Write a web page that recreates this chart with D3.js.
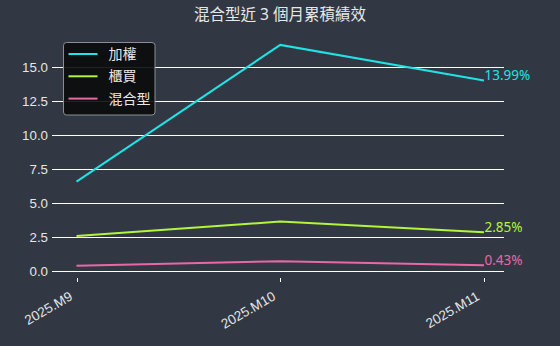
<!DOCTYPE html>
<html>
<head>
<meta charset="utf-8">
<script src="https://cdn.jsdelivr.net/npm/d3@7"></script>
<style>
  body { margin: 0; background: #313843; }
  svg { display: block; font-family: "Noto Sans", "Noto Sans CJK TC", sans-serif; }
</style>
</head>
<body>
<div id="container"></div>
<script>
/* DATA */
const months = ["2025.M9", "2025.M10", "2025.M11"];
const seriesNames = ["加權", "櫃買", "混合型"];
const taiex = [6.56, 16.6, 13.99];
const otc = [2.57, 3.63, 2.85];
const mixed = [0.39, 0.72, 0.43];
const yTicks = [0, 2.5, 5, 7.5, 10, 12.5, 15];
const colors = ["#1fe3e6", "#b2f53a", "#e868a6"];

const width = 560, height = 346;
const seriesData = [taiex, otc, mixed];

const svg = d3.select("#container").append("svg")
  .attr("width", width)
  .attr("height", height);

svg.append("rect").attr("width", width).attr("height", height).attr("fill", "#313843");

/* SCALES */
const xScale = d3.scalePoint().domain(months).range([76.5, 484]);
const yScale = d3.scaleLinear().domain([0, 15]).range([271, 66.7]);

// title
svg.append("text")
  .attr("x", 280).attr("y", 20)
  .attr("text-anchor", "middle")
  .attr("fill", "#e8e8e8")
  .style("font-family", "'Noto Sans', 'Noto Sans CJK TC', sans-serif")
  .style("font-size", "15.5px")
  .style("white-space", "pre")
  .text("混合型近 3 個月累積績效");

// y grid + axis
const yAxis = svg.append("g")
  .attr("transform", "translate(56,0)")
  .call(d3.axisLeft(yScale).tickValues(yTicks).tickFormat(d3.format(".1f"))
    .tickSize(-448).tickPadding(8));
yAxis.select(".domain").remove();
yAxis.selectAll(".tick").attr("transform", d => "translate(0," + (Math.round(yScale(d)) + 0.5) + ")");
yAxis.selectAll("line").attr("stroke", "#ffffff").attr("stroke-width", 1)
  .attr("x1", -4);
yAxis.selectAll("text").attr("fill", "#e6e6e6").style("font-size", "13.3px");

// x axis
const xAxis = svg.append("g")
  .attr("transform", "translate(0,277)")
  .call(d3.axisBottom(xScale).tickSize(5).tickPadding(4));
xAxis.select(".domain").remove();
xAxis.selectAll(".tick").attr("transform", d => "translate(" + (Math.round(xScale(d)) + 0.5) + ",0)");
xAxis.selectAll("line").attr("stroke", "#ffffff").attr("y1", 1);
xAxis.selectAll("text")
  .attr("fill", "#e6e6e6")
  .style("font-size", "13.5px")
  .attr("text-anchor", "end")
  .attr("y", 0).attr("dy", 0)
  .attr("transform", "translate(-4,22) rotate(-30)");

// lines
const line = d3.line().x((d, i) => xScale(months[i])).y(d => yScale(d));
seriesData.forEach((s, k) => {
  svg.append("path")
    .datum(s)
    .attr("fill", "none")
    .attr("stroke", colors[k])
    .attr("stroke-width", 2)
    .attr("d", line);
  svg.append("text")
    .attr("x", xScale(months[2]) + 0.5)
    .attr("y", yScale(s[2]) - 0.5)
    .attr("fill", colors[k])
    .style("font-size", "13.5px")
    .text(s[2].toFixed(2) + "%");
});

// legend
const legend = svg.append("g").attr("transform", "translate(63.5,42.5)");
legend.append("rect")
  .attr("width", 91.5).attr("height", 72.5).attr("rx", 3)
  .attr("fill", "#0b0b0c").attr("fill-opacity", 0.9)
  .attr("stroke", "#8a8e94").attr("stroke-width", 1);
seriesNames.forEach((name, k) => {
  const y = 11.5 + k * 22.3;
  legend.append("line")
    .attr("x1", 5).attr("x2", 34).attr("y1", y).attr("y2", y)
    .attr("stroke", colors[k]).attr("stroke-width", 2);
  legend.append("text")
    .attr("x", 45).attr("y", y + 5)
    .attr("fill", "#e8e8e8")
    .style("font-family", "'Noto Sans CJK TC', sans-serif")
    .style("font-size", "14px")
    .text(name);
});
</script>
</body>
</html>
